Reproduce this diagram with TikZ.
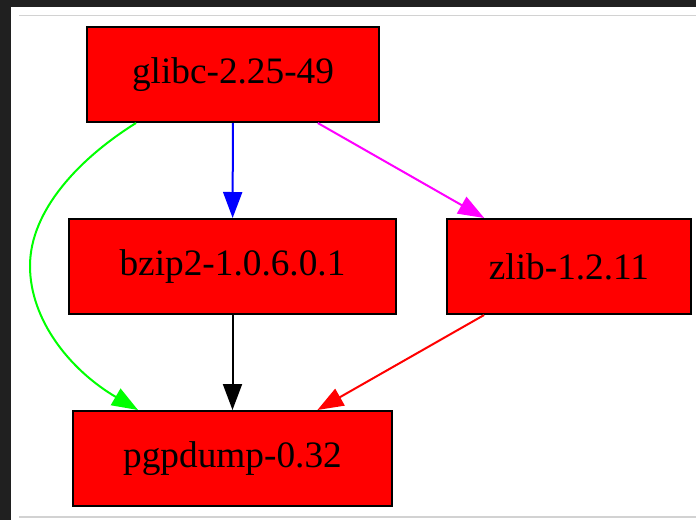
\documentclass[tikz,border=0pt]{standalone}
\usepackage{fontspec}
\setmainfont{Liberation Serif}
\usetikzlibrary{arrows.meta,calc}
\definecolor{mag}{RGB}{255,0,255}
\definecolor{grn}{RGB}{0,255,0}
\definecolor{blu}{RGB}{0,0,255}
\definecolor{rd}{RGB}{255,0,0}
\definecolor{dark}{RGB}{32,32,32}
\begin{document}
\begin{tikzpicture}[x=1pt,y=-1pt,
  pkg/.style={draw=black,fill=rd,line width=2pt,inner sep=0pt,minimum height=95pt,
    font=\fontsize{37.3}{40}\selectfont},
  dep/.style={line width=2pt,-{Triangle[length=26pt,width=19pt]}}]
\useasboundingbox (0,0) rectangle (696,520);
\fill[dark] (0,0) rectangle (696,520);
\fill[white] (11,7) rectangle (696,520);
\draw[gray!35,line width=1.2pt] (19,15.5) -- (696,15.5);
\draw[gray!35,line width=1.2pt] (19,517) -- (696,517);
\node[pkg,minimum width=292pt] (glibc) at (233,74.5) {glibc-2.25-49};
\node[pkg,minimum width=327pt] (bzip) at (232.5,266.5) {bzip2-1.0.6.0.1};
\node[pkg,minimum width=244pt] (zlib) at (569,266.5) {zlib-1.2.11};
\node[pkg,minimum width=319pt] (pgp) at (232.5,458.5) {pgpdump-0.32};
\draw[dep,blu] (glibc) -- (bzip);
\draw[dep,mag] (glibc) -- (zlib);
\draw[dep,rd] (zlib) -- (pgp);
\draw[dep,black] (bzip) -- (pgp);
\coordinate (gs) at ($(glibc.south)+(-97,0)$);
\coordinate (pn) at ($(pgp.north)+(-94.5,0)$);
\draw[dep,grn] (gs) .. controls (80,158) and (30,210) .. (30,266)
  .. controls (30,320) and (70,370) .. (pn);
\end{tikzpicture}
\end{document}
